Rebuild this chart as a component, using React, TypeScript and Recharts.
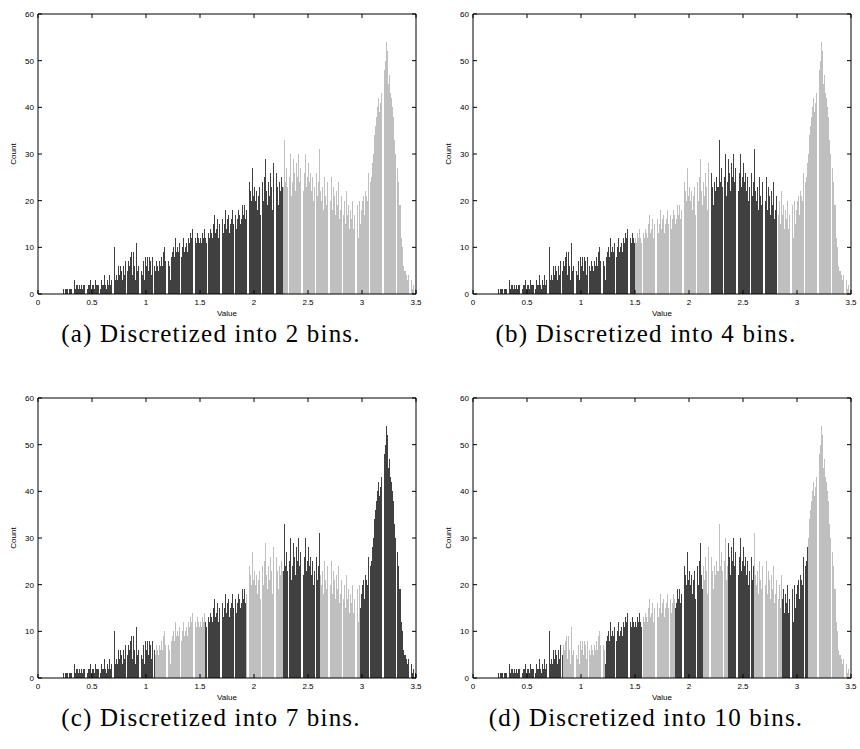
import React from 'react';
import { BarChart, Bar, XAxis, YAxis, Cell } from 'recharts';

// Histogram counts, one value per 0.01-wide bin (bin start = index * 0.01)
// 0.00 – 0.99
const countsA = [
  0, 0, 0, 0, 0, 0, 0, 0, 0, 0,
  0, 0, 0, 0, 0, 0, 0, 0, 0, 0,
  0, 0, 0, 1, 0, 1, 1, 1, 0, 1,
  1, 1, 0, 3, 1, 2, 2, 1, 2, 1,
  2, 1, 2, 2, 3, 1, 2, 2, 3, 1,
  2, 2, 1, 3, 2, 2, 2, 1, 3, 2,
  2, 4, 2, 1, 3, 2, 4, 2, 3, 4,
  10, 3, 4, 3, 6, 4, 6, 5, 3, 6,
  4, 7, 5, 7, 6, 8, 9, 4, 9, 6,
  3, 11, 5, 6, 8, 5, 4, 7, 3, 8,
];
// 1.00 – 1.99
const countsB = [
  6, 8, 5, 8, 7, 4, 8, 6, 5, 7,
  6, 5, 7, 6, 8, 6, 9, 10, 7, 8,
  7, 6, 3, 8, 9, 10, 8, 12, 9, 10,
  9, 11, 8, 10, 12, 9, 10, 11, 9, 12,
  11, 13, 12, 14, 10, 12, 11, 13, 12, 11,
  12, 11, 13, 12, 14, 12, 11, 13, 12, 14,
  13, 12, 15, 17, 13, 14, 16, 12, 15, 14,
  16, 13, 15, 18, 14, 16, 17, 13, 15, 16,
  18, 15, 17, 14, 16, 18, 17, 15, 16, 19,
  17, 19, 16, 18, 15, 24, 22, 20, 27, 21,
];
// 2.00 – 2.99
const countsC = [
  23, 20, 22, 18, 21, 23, 17, 24, 20, 25,
  29, 22, 19, 24, 21, 26, 23, 18, 28, 22,
  26, 23, 19, 24, 22, 25, 23, 23, 33, 24,
  27, 23, 25, 30, 21, 24, 29, 26, 22, 28,
  25, 30, 24, 27, 28, 22, 26, 30, 23, 25,
  28, 24, 26, 22, 25, 20, 23, 26, 21, 24,
  31, 22, 20, 23, 18, 25, 21, 19, 24, 22,
  20, 25, 18, 23, 21, 17, 22, 19, 24, 16,
  18, 21, 17, 20, 15, 22, 17, 19, 14, 18,
  16, 20, 14, 17, 13, 19, 12, 20, 15, 18,
];
// 3.00 – 3.49
const countsD = [
  20, 21, 17, 22, 21, 20, 26, 24, 25, 28,
  30, 34, 36, 38, 40, 42, 39, 41, 43, 50,
  48, 50, 54, 52, 45, 47, 43, 42, 40, 38,
  33, 30, 27, 24, 19, 19, 12, 10, 6, 5,
  5, 4, 3, 4, 2, 3, 1, 2, 0, 1,
];

const BIN_WIDTH = 0.01;
const xTicks = [0, 0.5, 1, 1.5, 2, 2.5, 3, 3.5];
const yTicks = [0, 10, 20, 30, 40, 50, 60];

// discretization boundaries (values)
const bounds2 = [2.27];
const bounds4 = [1.5, 2.2, 2.82];
const bounds7 = [1.08, 1.55, 1.93, 2.27, 2.61, 2.98];
const bounds10 = [0.83, 1.22, 1.57, 1.87, 2.13, 2.36, 2.6, 2.86, 3.1];

const captions = [
  '(a) Discretized into 2 bins.',
  '(b) Discretized into 4 bins.',
  '(c) Discretized into 7 bins.',
  '(d) Discretized into 10 bins.',
];

const DARK = '#404040';
const LIGHT = '#bfbfbf';

const counts = [...countsA, ...countsB, ...countsC, ...countsD];
const data = counts.map((c, i) => ({ bin: i, x: (i + 0.5) * BIN_WIDTH, count: c }));

const tickStyle = { fontSize: 8, fill: '#000', fontFamily: 'Liberation Sans, Arial, sans-serif' };
const noLabel = () => '';

function colorFor(i: number, bounds: number[]) {
  let k = 0;
  for (const b of bounds) if (i >= Math.round(b / BIN_WIDTH)) k++;
  return k % 2 === 0 ? DARK : LIGHT;
}

function Panel({ bounds, left, top, caption }: { bounds: number[]; left: number; top: number; caption: string }) {
  return (
    <div style={{ position: 'absolute', left, top, width: 430, height: 370 }}>
      <BarChart
        width={430}
        height={330}
        data={data}
        margin={{ top: 13, right: 13, bottom: 0, left: 0 }}
        barCategoryGap={0}
        barGap={0}
      >
        <XAxis
          xAxisId="num"
          dataKey="x"
          type="number"
          domain={[0, 3.5]}
          ticks={xTicks}
          allowDataOverflow
          interval={0}
          height={36}
          tickSize={-4}
          tickMargin={9}
          stroke="#000"
          tick={tickStyle}
        />
        <XAxis xAxisId="cat" dataKey="bin" type="category" hide height={0} />
        <XAxis
          xAxisId="top"
          orientation="top"
          dataKey="x"
          type="number"
          domain={[0, 3.5]}
          ticks={xTicks}
          allowDataOverflow
          interval={0}
          height={1}
          tickSize={-4}
          tickFormatter={noLabel}
          stroke="#000"
        />
        <YAxis
          yAxisId="left"
          domain={[0, 60]}
          ticks={yTicks}
          allowDataOverflow
          interval={0}
          width={38}
          tickSize={-4}
          tickMargin={8}
          stroke="#000"
          tick={tickStyle}
        />
        <YAxis
          yAxisId="right"
          orientation="right"
          dataKey="count"
          domain={[0, 60]}
          ticks={yTicks}
          allowDataOverflow
          interval={0}
          width={1}
          tickSize={-4}
          tickFormatter={noLabel}
          stroke="#000"
        />
        <Bar xAxisId="cat" yAxisId="left" dataKey="count" barSize={1.5} isAnimationActive={false}>
          {data.map((d, i) => {
            const c = colorFor(i, bounds);
            return <Cell key={i} fill={c} shapeRendering="crispEdges" />;
          })}
        </Bar>
      </BarChart>
      <div
        style={{
          position: 'absolute',
          left: 14 - 20,
          top: 154 - 5,
          width: 40,
          height: 10,
          lineHeight: '10px',
          fontSize: 8,
          textAlign: 'center',
          transform: 'rotate(-90deg)',
          fontFamily: 'Liberation Sans, Arial, sans-serif',
          color: '#000',
        }}
      >
        Count
      </div>
      <div
        style={{
          position: 'absolute',
          left: 227 - 30,
          top: 309,
          width: 60,
          height: 10,
          lineHeight: '10px',
          fontSize: 8,
          textAlign: 'center',
          fontFamily: 'Liberation Sans, Arial, sans-serif',
          color: '#000',
        }}
      >
        Value
      </div>
      <div
        style={{
          position: 'absolute',
          left: -4,
          top: 320,
          width: 430,
          height: 28,
          lineHeight: '28px',
          fontSize: 25,
          textAlign: 'center',
          fontFamily: 'Liberation Serif, Times New Roman, serif',
          letterSpacing: 1.2,
          color: '#000',
          whiteSpace: 'nowrap',
        }}
      >
        {caption}
      </div>
    </div>
  );
}

export default function App() {
  return (
    <div style={{ position: 'absolute', left: 0, top: 0, width: 860, height: 749, background: '#fff', overflow: 'hidden' }}>
      <Panel bounds={bounds2} left={0} top={0} caption={captions[0]} />
      <Panel bounds={bounds4} left={435} top={0} caption={captions[1]} />
      <Panel bounds={bounds7} left={0} top={384} caption={captions[2]} />
      <Panel bounds={bounds10} left={435} top={384} caption={captions[3]} />
    </div>
  );
}
